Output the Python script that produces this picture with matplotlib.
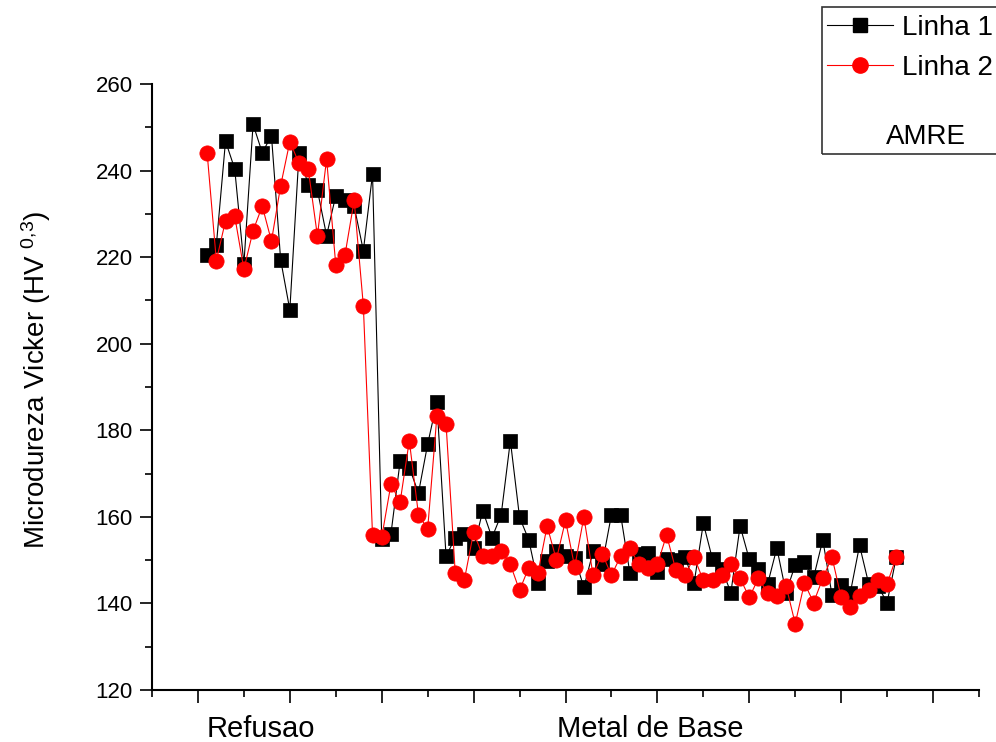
import matplotlib
matplotlib.use("Agg")
import matplotlib.pyplot as plt
from matplotlib.lines import Line2D
from matplotlib.patches import Rectangle

plt.rcParams["font.family"] = ["Liberation Sans", "DejaVu Sans"]
plt.rcParams["mathtext.fontset"] = "custom"
plt.rcParams["mathtext.rm"] = "Liberation Sans"
plt.rcParams["mathtext.it"] = "Liberation Sans"

# Microdureza ao longo do perfil (76 pontos por linha)
linha1 = [
    220.5, 222.7, 246.8, 240.4, 218.4, 250.7, 244.1, 248.1, 219.4, 207.8,
    244.0, 236.7, 235.5, 225.0, 234.2, 233.1, 231.8, 221.5, 239.2, 155.0,
    156.0, 172.8, 171.4, 165.5, 176.8, 186.5, 150.9, 155.2, 156.0, 152.8,
    161.4, 155.2, 160.5, 177.6, 159.9, 154.7, 144.8, 149.7, 152.2, 151.0,
    150.6, 143.7, 152.0, 149.1, 160.5, 160.5, 147.1, 151.5, 151.6, 147.2,
    150.2, 150.0, 150.7, 144.8, 158.5, 150.2, 148.0, 142.5, 157.9, 150.2,
    147.9, 144.5, 152.8, 142.5, 148.9, 149.5, 146.0, 154.7, 142.0, 144.3,
    142.5, 153.4, 144.5, 144.0, 140.2, 150.7,
]
linha2 = [
    244.1, 219.2, 228.4, 229.5, 217.2, 226.1, 231.8, 223.7, 236.5, 246.7,
    241.7, 240.4, 224.9, 242.7, 218.2, 220.5, 233.1, 208.8, 155.8, 155.3,
    167.5, 163.4, 177.6, 160.5, 157.2, 183.2, 181.5, 147.1, 145.5, 156.5,
    150.9, 150.9, 152.2, 149.0, 143.0, 148.3, 147.0, 157.9, 150.1, 159.2,
    148.4, 160.0, 146.5, 151.5, 146.5, 150.9, 152.7, 149.0, 148.3, 149.0,
    155.8, 147.8, 146.5, 150.7, 145.3, 145.3, 146.5, 149.1, 145.8, 141.4,
    145.8, 142.4, 141.8, 144.1, 135.3, 144.7, 140.2, 145.8, 150.7, 141.4,
    139.1, 141.8, 143.0, 145.3, 144.5, 150.7,
]
pos = list(range(1, len(linha1) + 1))

regioes = ["Refusao", "Metal de Base"]
regioes_x = [6.8, 49.2]

fig = plt.figure(figsize=(9.96, 7.42), dpi=100)
ax = fig.add_axes([152 / 996, 1 - 690 / 742, 827 / 996, 606 / 742])

ax.plot(pos, linha1, color="black", lw=0.8, marker="s", ms=9.5,
        mec="black", mew=0.5, label="Linha 1")
ax.plot(pos, linha2, color="red", lw=0.8, marker="o", ms=11,
        mec="red", mew=0.5, label="Linha 2")

ax.set_xlim(-5, 85)
ax.set_ylim(120, 260)
ax.set_xticks(range(0, 81, 10))
ax.set_xticks(range(-5, 86, 10), minor=True)
ax.set_xticklabels([])
ax.set_yticks(range(120, 261, 20))
ax.set_yticks(range(130, 260, 20), minor=True)
ax.tick_params(axis="both", which="major", length=9, width=1.2, direction="out",
               labelsize=16, pad=5)
ax.tick_params(axis="both", which="minor", length=5, width=1.2, direction="out")

for s in ["top", "right"]:
    ax.spines[s].set_visible(False)
for s in ["left", "bottom"]:
    ax.spines[s].set_linewidth(1.5)

trans = ax.get_xaxis_transform()
for nome, xr in zip(regioes, regioes_x):
    ax.text(xr, -0.0776, nome, transform=trans, ha="center", va="baseline",
            fontsize=21)

fig.text(36 / 996, 1 - 380 / 742, r"Microdureza Vicker (HV $^{0{,}3}$)",
         rotation=90, ha="center", va="center", fontsize=20)

# caixa da legenda (sai da figura pela direita)
fig.patches.append(Rectangle((822 / 996, 1 - 154 / 742), 0.3, 147 / 742,
                             transform=fig.transFigure, fill=False,
                             edgecolor="#333333", lw=1.2))
handles = [
    Line2D([], [], color="black", lw=0.8, marker="s", ms=9.5),
    Line2D([], [], color="red", lw=0.8, marker="o", ms=11),
]
fig.legend(handles, ["Linha 1", "Linha 2"], loc="upper left",
           bbox_to_anchor=(824 / 996, 1 - 12 / 742), frameon=False,
           fontsize=20, handlelength=2.4, handletextpad=0.3,
           labelspacing=0.5, borderpad=0.1, borderaxespad=0)
fig.text(926 / 996, 1 - 137 / 742, "AMRE", ha="center", va="center",
         fontsize=20)

fig.savefig("out.png", dpi=100)
